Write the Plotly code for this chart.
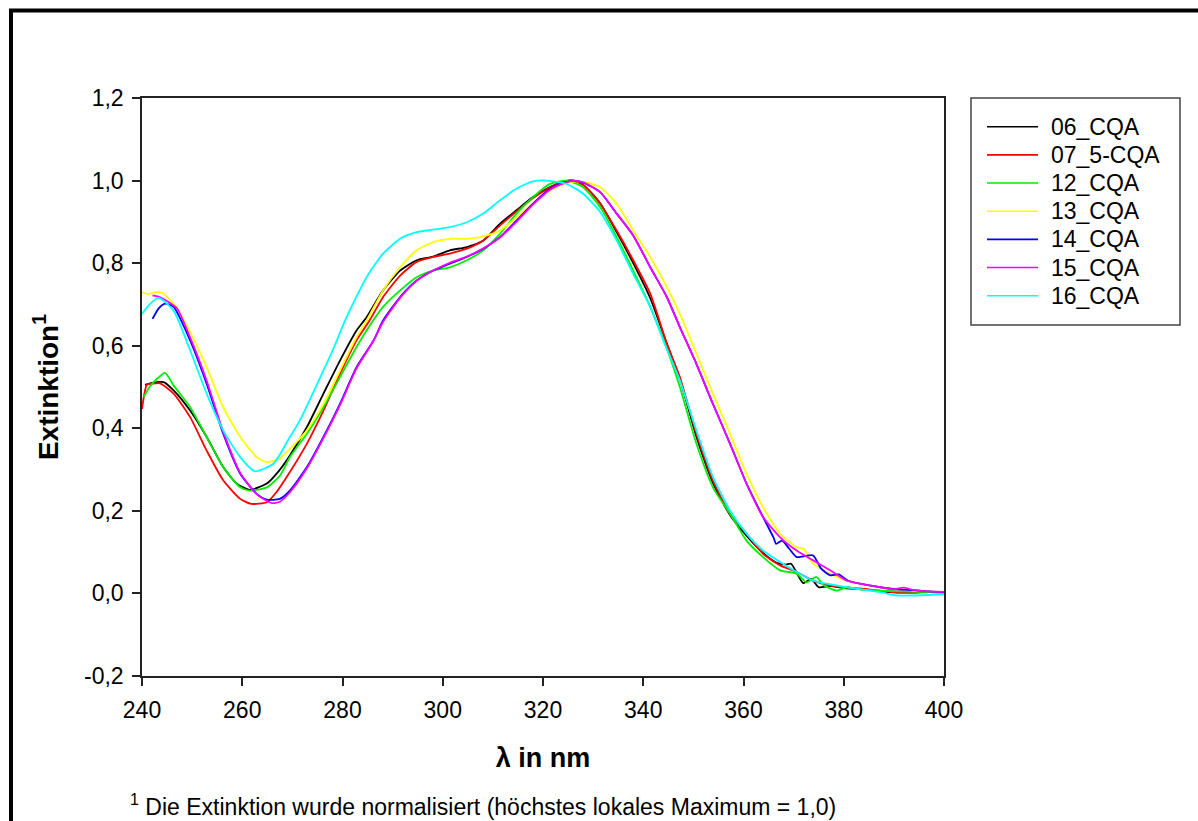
import plotly.graph_objects as go

# ---------------- data ----------------
names = ["06_CQA", "07_5-CQA", "12_CQA", "13_CQA", "14_CQA", "15_CQA", "16_CQA"]
colors = ["#000000", "#FF0000", "#00EE00", "#FFFF00", "#0000FF", "#FF00FF", "#00FFFF"]

x_06 = [240.6, 242, 244.3, 246.3, 249.6, 252.9, 256.2, 258.9, 261.5, 264.9, 267.2, 269.5, 272.9, 276.2, 279.5,
        282.8, 284.8, 288.1, 291.5, 294.8, 298.1, 301.4, 304.8, 308.1, 311.4, 314.7, 318.0, 321.4, 324.5,
        326, 328, 331.4, 334.7, 338, 341.4, 344.7, 347.3, 350.6, 353.9, 357.3, 360.6, 363.9, 366.5,
        368.5, 369.5, 371.9, 373.5, 375, 377.3, 380.6, 384, 387.3, 390.6, 394, 397, 400]
y_06 = [0.505, 0.510, 0.512, 0.492, 0.443, 0.379, 0.306, 0.266, 0.251, 0.266, 0.295, 0.334, 0.403, 0.484, 0.564,
        0.637, 0.669, 0.734, 0.782, 0.807, 0.816, 0.831, 0.839, 0.855, 0.895, 0.928, 0.960, 0.984, 0.999,
        1.0, 0.990, 0.945, 0.875, 0.800, 0.715, 0.605, 0.520, 0.380, 0.268, 0.190, 0.140, 0.098, 0.075,
        0.070, 0.072, 0.025, 0.035, 0.015, 0.018, 0.012, 0.010, 0.005, 0.002, 0.002, 0.003, 0.002]

x_07 = [240, 241, 242, 243.6, 246.3, 249.6, 252.9, 256.2, 259.6, 261.8, 264.9, 266.8, 269.5, 272.9, 276.2,
        279.5, 282.8, 285.4, 288.1, 291.5, 294.8, 298.1, 301.4, 304.8, 308.1, 311.4, 314.7, 318.0, 321.4,
        324.5, 326, 328, 331.4, 334.7, 338, 341.4, 344.7, 347.3, 350.6, 353.9, 357.3, 360.6, 363.9, 367.3,
        370.6, 373.9, 377.3, 381, 385, 390, 395, 400]
y_07 = [0.447, 0.506, 0.508, 0.509, 0.484, 0.427, 0.346, 0.274, 0.229, 0.217, 0.221, 0.245, 0.294, 0.363, 0.443,
        0.532, 0.613, 0.661, 0.718, 0.770, 0.803, 0.815, 0.823, 0.835, 0.855, 0.891, 0.925, 0.958, 0.983,
        0.998, 1.0, 0.990, 0.944, 0.879, 0.807, 0.726, 0.605, 0.524, 0.387, 0.274, 0.193, 0.145, 0.096, 0.068,
        0.052, 0.031, 0.019, 0.014, 0.010, 0.003, 0.003, 0.003]

x_12 = [240.3, 241.5, 243, 244.6, 246.3, 249.6, 252.9, 256.2, 259.6, 261.5, 264.9, 267.5, 269.5, 272.9, 276.2,
        279.5, 282.8, 284.8, 288.1, 291.5, 294.8, 298.1, 301.4, 304.8, 308.1, 311.4, 314.7, 318.0, 321.4,
        324.7, 328, 331.4, 334.7, 338, 341.4, 344.5, 347.3, 350.6, 353.9, 357.3, 359, 360.6, 363.9, 367.3,
        370.6, 372.6, 374.5, 376, 378.6, 380.6, 383, 387.3, 391, 395, 400]
y_12 = [0.475, 0.500, 0.520, 0.534, 0.504, 0.451, 0.379, 0.306, 0.257, 0.249, 0.257, 0.285, 0.330, 0.387, 0.451,
        0.524, 0.597, 0.637, 0.694, 0.734, 0.766, 0.782, 0.790, 0.807, 0.831, 0.871, 0.920, 0.960, 0.992,
        1.0, 0.984, 0.936, 0.863, 0.782, 0.694, 0.600, 0.500, 0.363, 0.257, 0.193, 0.159, 0.128, 0.088, 0.056,
        0.048, 0.027, 0.040, 0.020, 0.007, 0.015, 0.010, 0.007, 0.005, 0.004, 0.003]

x_13 = [240, 241.3, 242.6, 244, 246.3, 249.6, 252.9, 256.2, 259.6, 262.9, 264.9, 267.5, 269.5, 272.9, 276.2,
        279.5, 282.8, 285, 288.1, 291.5, 294.8, 298.1, 301.4, 304.8, 308.1, 311.4, 314.7, 318.0, 321.4,
        324.5, 326.5, 328, 331.4, 334.7, 338, 341.4, 344.7, 347.3, 350.6, 353.9, 357.3, 360.6, 363.9, 367.3,
        370.6, 372, 373.9, 377.3, 380.6, 384, 387.3, 390.6, 394, 400]
y_13 = [0.730, 0.725, 0.730, 0.728, 0.702, 0.633, 0.548, 0.451, 0.379, 0.330, 0.318, 0.327, 0.350, 0.395, 0.459,
        0.540, 0.621, 0.665, 0.734, 0.790, 0.831, 0.851, 0.859, 0.859, 0.865, 0.879, 0.911, 0.944, 0.976,
        0.993, 0.998, 0.997, 0.984, 0.944, 0.879, 0.815, 0.742, 0.677, 0.581, 0.484, 0.387, 0.290, 0.209, 0.145,
        0.112, 0.108, 0.072, 0.048, 0.031, 0.022, 0.015, 0.010, 0.007, 0.003]

x_14 = [242.1, 243.3, 244.6, 246.3, 249.6, 252.9, 256.2, 259.6, 262.9, 264.9, 267.5, 269.5, 272.9, 276.2, 279.5,
        282.8, 286.2, 288.1, 291.5, 294.8, 298.1, 301.4, 304.8, 308.1, 311.4, 314.7, 318.0, 321.4, 324.5,
        326.1, 328, 331.4, 334.7, 338, 341.4, 344.7, 347.3, 350.6, 353.9, 357.3, 360.6, 363.9, 366.0, 366.5,
        367.7, 369, 370.6, 372, 373.9, 375.5, 377.3, 379, 381, 384, 387.3, 390.6, 394, 397, 400]
y_14 = [0.665, 0.690, 0.702, 0.694, 0.613, 0.508, 0.387, 0.290, 0.241, 0.227, 0.229, 0.249, 0.306, 0.379, 0.459,
        0.548, 0.613, 0.661, 0.718, 0.758, 0.782, 0.799, 0.815, 0.835, 0.863, 0.903, 0.944, 0.980, 0.996,
        1.0, 0.995, 0.972, 0.920, 0.867, 0.790, 0.718, 0.645, 0.556, 0.459, 0.363, 0.266, 0.185, 0.135, 0.120,
        0.128, 0.110, 0.088, 0.090, 0.092, 0.060, 0.044, 0.046, 0.030, 0.022, 0.015, 0.010, 0.008, 0.005, 0.003]

x_15 = [242.1, 243.5, 245.3, 247, 249.6, 252.9, 256.2, 259.6, 262.9, 265.9, 267.5, 269.5, 272.9, 276.2, 279.5,
        282.8, 286.2, 288.1, 291.5, 294.8, 298.1, 301.4, 304.8, 308.1, 311.4, 314.7, 318.0, 321.4, 324.5,
        326.1, 328, 331.4, 334.7, 338, 341.4, 344.7, 347.3, 350.6, 353.9, 357.3, 360.6, 363.9, 367.3, 370.6,
        373.9, 377.3, 380.6, 384, 387.3, 390, 392, 394, 397, 400]
y_15 = [0.722, 0.718, 0.706, 0.690, 0.620, 0.515, 0.392, 0.292, 0.240, 0.219, 0.222, 0.245, 0.303, 0.376, 0.456,
        0.545, 0.612, 0.658, 0.716, 0.757, 0.782, 0.801, 0.816, 0.836, 0.862, 0.900, 0.942, 0.978, 0.995,
        1.0, 0.996, 0.972, 0.920, 0.867, 0.790, 0.718, 0.645, 0.556, 0.459, 0.363, 0.266, 0.185, 0.136, 0.104,
        0.080, 0.056, 0.031, 0.022, 0.015, 0.010, 0.014, 0.008, 0.005, 0.004]

x_16 = [240, 241.5, 243.3, 246.3, 249.6, 252.9, 256.2, 259.6, 262.5, 266.2, 269.5, 271.5, 276.2, 278.2, 280.5,
        284.8, 288.1, 291.5, 294.8, 298.1, 301.4, 304.8, 308.1, 311.4, 314.7, 318.0, 320.7, 324.7, 328.0,
        331.4, 334.7, 338.0, 341.4, 344.0, 347.3, 350.6, 353.9, 357.3, 360.6, 363.9, 367.3, 370.6, 373.9,
        380.6, 387.3, 390.6, 394, 400]
y_16 = [0.677, 0.700, 0.716, 0.685, 0.589, 0.484, 0.395, 0.330, 0.296, 0.314, 0.379, 0.419, 0.540, 0.593, 0.661,
        0.766, 0.823, 0.859, 0.875, 0.881, 0.887, 0.899, 0.920, 0.952, 0.980, 0.998, 1.0, 0.992, 0.968,
        0.924, 0.855, 0.774, 0.694, 0.613, 0.516, 0.395, 0.282, 0.201, 0.145, 0.104, 0.076, 0.052, 0.031,
        0.015, 0.003, -0.005, -0.005, -0.002]

xs = [x_06, x_07, x_12, x_13, x_14, x_15, x_16]
ys = [y_06, y_07, y_12, y_13, y_14, y_15, y_16]

x_ticks = [240, 260, 280, 300, 320, 340, 360, 380, 400]
x_ticktext = ["240", "260", "280", "300", "320", "340", "360", "380", "400"]
y_ticks = [-0.2, 0.0, 0.2, 0.4, 0.6, 0.8, 1.0, 1.2]
y_ticktext = ["-0,2", "0,0", "0,2", "0,4", "0,6", "0,8", "1,0", "1,2"]

# ---------------- figure ----------------
W, H = 1198, 821
L, R, T, B = 142, 254, 98, 145
pw, ph = W - L - R, H - T - B


def px(xp):
    return (xp - L) / pw


def py(yp):
    return (H - B - yp) / ph


FONT = "Liberation Sans, Arial, sans-serif"

fig = go.Figure()
for n, c, x, y in zip(names, colors, xs, ys):
    fig.add_trace(go.Scatter(x=x, y=y, mode="lines", name=n, showlegend=False,
                             line=dict(color=c, width=1.8, shape="spline", smoothing=0.6)))

axis_common = dict(showgrid=False, zeroline=False, showline=True, linecolor="#222222",
                   linewidth=1.5, mirror=True, ticks="outside", ticklen=8, tickwidth=1.5,
                   tickcolor="#222222", tickfont=dict(family=FONT, size=23, color="#000000"))

fig.update_layout(
    width=W, height=H,
    margin=dict(l=L, r=R, t=T, b=B),
    paper_bgcolor="white", plot_bgcolor="white",
    font=dict(family=FONT, color="#000000"),
    xaxis=dict(range=[240, 400], tickvals=x_ticks, ticktext=x_ticktext, ticklabelstandoff=5,
               title=dict(text="<b>λ in nm</b>", font=dict(family=FONT, size=27), standoff=26),
               **axis_common),
    yaxis=dict(range=[-0.2, 1.2], tickvals=y_ticks, ticktext=y_ticktext, ticklabelstandoff=4,
               title=dict(text="<b>Extinktion<sup>1</sup></b>", font=dict(family=FONT, size=28), standoff=17),
               **axis_common),
    showlegend=False,
)

# legend frame
fig.add_shape(type="rect", xref="paper", yref="paper",
              x0=px(971), x1=px(1180), y0=py(325), y1=py(98),
              line=dict(color="#444444", width=1.5), fillcolor="rgba(0,0,0,0)")
# legend entries
for i, (n, c) in enumerate(zip(names, colors)):
    yc = 126.7 + i * 28.17
    fig.add_shape(type="line", xref="paper", yref="paper",
                  x0=px(987), x1=px(1038), y0=py(yc), y1=py(yc),
                  line=dict(color=c, width=1.6))
    fig.add_annotation(xref="paper", yref="paper", x=px(1049), y=py(yc),
                       xanchor="left", yanchor="middle", text=n, showarrow=False,
                       font=dict(family=FONT, size=23, color="#000000"))

# outer page frame
fig.add_shape(type="rect", xref="paper", yref="paper",
              x0=px(11), x1=px(1215), y0=py(845), y1=py(10.5),
              line=dict(color="#000000", width=4), fillcolor="rgba(0,0,0,0)")

fig.add_annotation(xref="paper", yref="paper", x=px(128), y=py(805), xanchor="left", yanchor="middle",
                   text="<sup>1</sup> Die Extinktion wurde normalisiert (höchstes lokales Maximum = 1,0)",
                   showarrow=False, font=dict(family=FONT, size=23, color="#000000"))

fig.write_html("out.html", config={"displayModeBar": False},
               post_script="document.body.style.margin='0';document.body.style.overflow='hidden';")
